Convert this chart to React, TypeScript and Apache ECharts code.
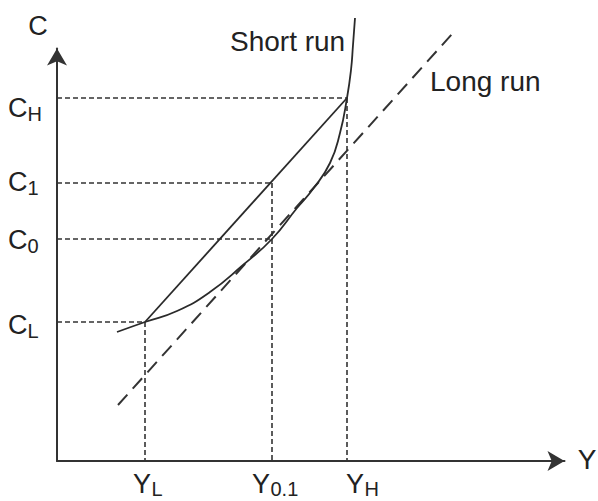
import React, { useEffect, useRef } from "react";
import * as echarts from "echarts";

// Cost levels on the C axis: C_H, C_1, C_0, C_L
const cLevels = [36.3, 27.8, 22.2, 13.9];
const cSubs = ["H", "1", "0", "L"];
// Output levels on the Y axis: Y_L, Y_0.1, Y_H
const yLevels = [8.8, 21.5, 29.0];
const ySubs = ["L", "0.1", "H"];
// which Y level each C guide runs to (index into yLevels)
const cGuideTo = [2, 1, 1, 0];
// which C guides drop a vertical guide to the Y axis
const cGuideVertical = [true, true, false, true];

// Short-run cost curve
const shortRunX = [6.0, 8.8, 12.0, 15.3, 18.6, 21.5, 24.0, 25.6, 27.3, 28.3, 29.0, 29.4, 29.6, 29.8];
const shortRunY = [12.9, 13.9, 15.0, 16.9, 19.6, 22.2, 25.3, 27.2, 29.8, 32.8, 36.3, 39.1, 41.6, 44.3];
// Long-run cost line
const longRunX = [6.1, 39.6];
const longRunY = [5.6, 42.8];

const X_MAX = 50.75;
const Y_MAX = 41.25;

// label layout (pixel offsets)
const cLabelDy = [10, -1, 1, 3];
const yLabelDx = [-12, -20, -1];

const INK = "#222";
const LINE = "#2a2a2a";
const FONT = "'Liberation Sans', Arial, sans-serif";

export default function App() {
  const ref = useRef<HTMLDivElement>(null);
  useEffect(() => {
    if (!ref.current) return;
    const chart = echarts.init(ref.current, undefined, { renderer: "svg" });

    const seg = (pts: number[][], style: any, extra: any = {}) => ({
      type: "line",
      data: pts,
      symbol: "none",
      silent: true,
      clip: false,
      lineStyle: style,
      ...extra,
    });
    const guide = { color: "#333", width: 1.6, type: [5, 3] };

    const series: any[] = [];
    cLevels.forEach((c, i) => {
      const yx = yLevels[cGuideTo[i]];
      series.push(seg([[0, c], [yx, c]], guide));
      if (cGuideVertical[i]) series.push(seg([[yx, c], [yx, 0]], guide));
    });
    series.push(
      seg(
        longRunX.map((x, i) => [x, longRunY[i]]),
        { color: "#333", width: 2, type: [14, 8] }
      )
    );
    series.push(
      seg(
        [
          [yLevels[0], cLevels[3]],
          [yLevels[2], cLevels[0]],
        ],
        { color: LINE, width: 1.8 }
      )
    );
    series.push(
      seg(
        shortRunX.map((x, i) => [x, shortRunY[i]]),
        { color: LINE, width: 1.8 },
        { smooth: 0.5 }
      )
    );

    const axisCommon = {
      type: "value",
      axisTick: { show: false },
      axisLabel: { show: false },
      splitLine: { show: false },
      axisLine: {
        show: true,
        onZero: true,
        symbol: ["none", "arrow"],
        symbolSize: [15, 17],
        lineStyle: { color: "#333", width: 2 },
      },
    };

    chart.setOption({
      animation: false,
      grid: { left: 57, right: 33.5, top: 48.5, bottom: 40 },
      xAxis: { ...axisCommon, min: 0, max: X_MAX },
      yAxis: { ...axisCommon, min: 0, max: Y_MAX },
      series,
    });

    const txt = (text: string, x: number, y: number, size: number, align = "left") => ({
      type: "text",
      x,
      y,
      silent: true,
      style: {
        text,
        fill: INK,
        fontSize: size,
        fontFamily: FONT,
        align,
        verticalAlign: "middle",
      },
    });

    const graphics: any[] = [];
    cLevels.forEach((c, i) => {
      const py = chart.convertToPixel({ gridIndex: 0 }, [0, c])[1] + cLabelDy[i];
      graphics.push(txt("C", 8, py, 27));
      graphics.push(txt(cSubs[i], 27.5, py + 5.5, 20));
    });
    yLevels.forEach((v, i) => {
      const px = chart.convertToPixel({ gridIndex: 0 }, [v, 0])[0] + yLabelDx[i];
      graphics.push(txt("Y", px, 484, 27));
      graphics.push(txt(ySubs[i], px + 18.5, 489, 20));
    });
    graphics.push(txt("C", 38, 26, 27, "center"));
    graphics.push(txt("Y", 587, 459, 28, "center"));
    graphics.push(txt("Short run", 230, 41.5, 28));
    graphics.push(txt("Long run", 430, 81.5, 28));

    chart.setOption({ graphic: graphics });

    return () => chart.dispose();
  }, []);

  return (
    <div
      ref={ref}
      style={{ position: "absolute", left: 0, top: 0, width: 598, height: 501, background: "#fff" }}
    />
  );
}
